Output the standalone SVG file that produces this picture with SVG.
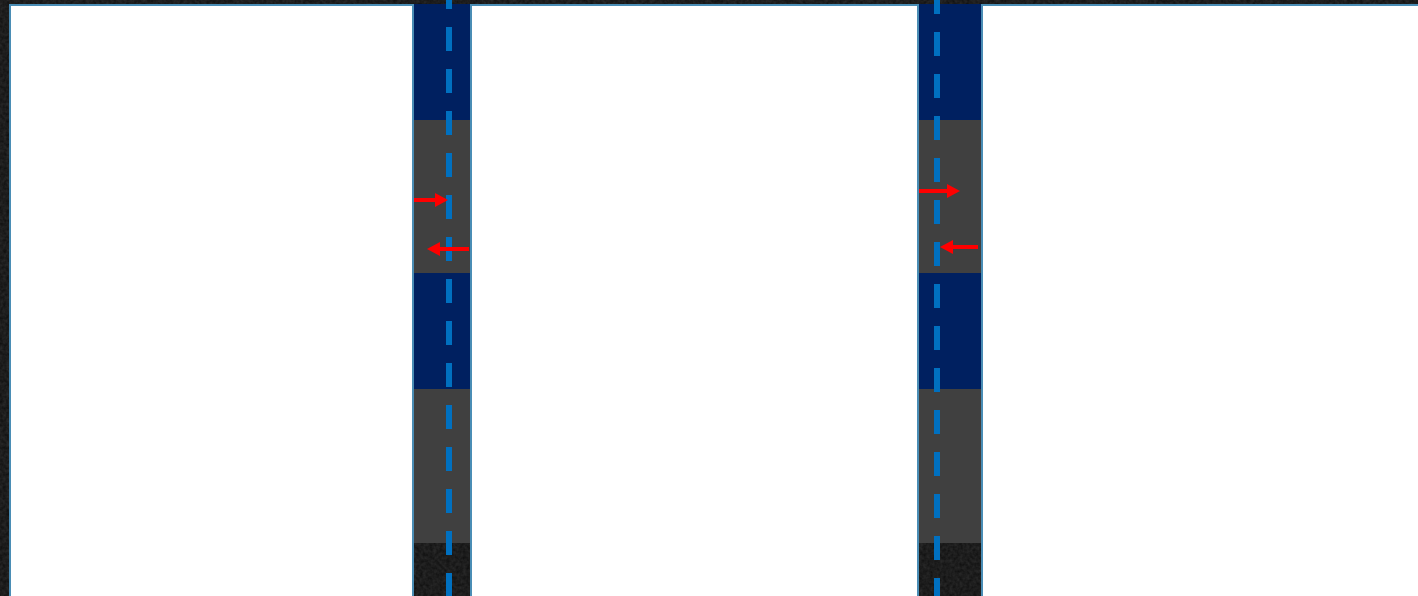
<svg xmlns="http://www.w3.org/2000/svg" width="1418" height="596" viewBox="0 0 1418 596">
  <style>
    .panel { fill: #ffffff; stroke: #4a8db5; stroke-width: 2; }
    .navy { fill: #002060; }
    .gray { fill: #404040; }
    .lane { stroke: #0070c0; stroke-width: 6; stroke-dasharray: 24 18; fill: none; }
    .arrow { stroke: #ff0000; stroke-width: 4; fill: none; marker-end: url(#head); }
  </style>
  <defs>
    <marker id="head" viewBox="0 -7 13 14" refX="0" refY="0" markerWidth="13" markerHeight="14" markerUnits="userSpaceOnUse" orient="auto">
      <path d="M0,-7 L13,0 L0,7 Z" fill="#ff0000"/>
    </marker>
    <filter id="noise" x="0" y="0" width="100%" height="100%">
      <feTurbulence type="fractalNoise" baseFrequency="0.3" numOctaves="2" seed="3"/>
      <feColorMatrix type="matrix" values="0 0 0 0 0.2  0 0 0 0 0.2  0 0 0 0 0.2  0 0 0 0.3 0"/>
    </filter>
  </defs>

  <g id="background">
    <rect x="0" y="0" width="1418" height="596" fill="#0c0c0c"/>
    <rect x="0" y="0" width="1418" height="596" filter="url(#noise)"/>
  </g>

  <g id="strip-1">
    <rect class="navy" x="413" y="4" width="58" height="116"/>
    <rect class="gray" x="413" y="120" width="58" height="153"/>
    <rect class="navy" x="413" y="273" width="58" height="116"/>
    <rect class="gray" x="413" y="389" width="58" height="154"/>
  </g>
  <g id="strip-2">
    <rect class="navy" x="918" y="4" width="64" height="116"/>
    <rect class="gray" x="918" y="120" width="64" height="153"/>
    <rect class="navy" x="918" y="273" width="64" height="116"/>
    <rect class="gray" x="918" y="389" width="64" height="154"/>
  </g>

  <g id="panel-left"><rect class="panel" x="10" y="5" width="403" height="600"/></g>
  <g id="panel-middle"><rect class="panel" x="471" y="5" width="447" height="600"/></g>
  <g id="panel-right"><rect class="panel" x="982" y="5" width="450" height="600"/></g>

  <g id="connectors">
    <line class="lane" x1="449" y1="-15" x2="449" y2="600"/>
    <line class="lane" x1="937" y1="-10" x2="937" y2="600"/>
    <line class="arrow" x1="414" y1="200" x2="435" y2="200"/>
    <line class="arrow" x1="469" y1="249" x2="440" y2="249"/>
    <line class="arrow" x1="919" y1="191" x2="947" y2="191"/>
    <line class="arrow" x1="978" y1="247" x2="953" y2="247"/>
  </g>
</svg>
